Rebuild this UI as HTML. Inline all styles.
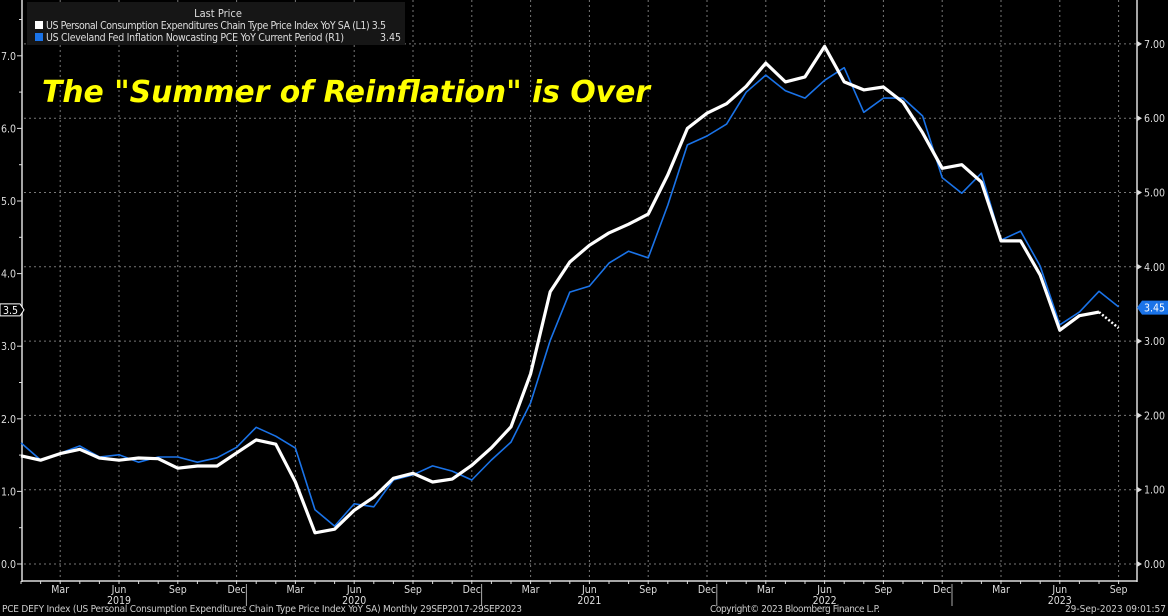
<!DOCTYPE html>
<html><head><meta charset="utf-8"><style>
html,body{margin:0;padding:0;background:#000;}
svg{display:block;}
text{font-family:"DejaVu Sans Condensed","DejaVu Sans","Liberation Sans",sans-serif;}
</style></head><body>
<svg id="chart" width="1168" height="616" viewBox="0 0 1168 616" xmlns="http://www.w3.org/2000/svg">
<g id="grid"></g>
<g id="axes"></g>
<g id="series"></g>
<g>
<rect x="27" y="2" width="378" height="43" fill="#161616"/>
<text x="218" y="17" fill="#ddd" font-size="11" text-anchor="middle">Last Price</text>
<rect x="35" y="21" width="8" height="8" fill="#fff"/>
<text x="46" y="29" fill="#ddd" font-size="10.5" textLength="340">US Personal Consumption Expenditures Chain Type Price Index YoY SA  (L1) 3.5</text>
<rect x="35" y="33" width="8" height="8" fill="#1a73e8"/>
<text x="46" y="41" fill="#ddd" font-size="10.5" textLength="298">US Cleveland Fed Inflation Nowcasting PCE YoY Current Period  (R1)</text>
<text x="401" y="41" fill="#ddd" font-size="10.5" text-anchor="end">3.45</text>
</g>
<text x="42" y="102" fill="#ffff00" font-size="30" font-weight="bold" font-style="italic" textLength="608" lengthAdjust="spacingAndGlyphs">The "Summer of Reinflation" is Over</text>
<text x="2" y="612" fill="#ccc" font-size="10" textLength="520">PCE DEFY Index (US Personal Consumption Expenditures Chain Type Price Index YoY SA)  Monthly 29SEP2017-29SEP2023</text>
<text x="710" y="612" fill="#ccc" font-size="10" textLength="170">Copyright© 2023 Bloomberg Finance L.P.</text>
<text x="1166" y="612" fill="#ccc" font-size="10" text-anchor="end">29-Sep-2023 09:01:57</text>
</svg>
<script>
const pceValues=[1.49,1.43,1.52,1.58,1.46,1.43,1.46,1.45,1.32,1.35,1.35,1.53,1.71,1.65,1.13,0.43,0.48,0.74,0.92,1.18,1.25,1.13,1.17,1.36,1.60,1.89,2.62,3.75,4.16,4.39,4.56,4.68,4.82,5.36,6.00,6.21,6.34,6.58,6.90,6.64,6.71,7.13,6.64,6.53,6.57,6.36,5.94,5.45,5.50,5.26,4.45,4.45,3.98,3.22,3.42,3.47];
const pceEstimate=[3.47,3.25];
const nowcastValues=[1.63,1.40,1.49,1.59,1.44,1.47,1.37,1.44,1.44,1.37,1.43,1.57,1.84,1.72,1.56,0.73,0.51,0.81,0.77,1.13,1.20,1.32,1.25,1.13,1.40,1.64,2.17,3.01,3.66,3.74,4.05,4.21,4.12,4.83,5.64,5.76,5.92,6.35,6.58,6.37,6.27,6.51,6.68,6.08,6.27,6.27,6.03,5.20,4.99,5.26,4.36,4.48,4.01,3.22,3.39,3.67,3.46];
const leftTicks=[0,1,2,3,4,5,6,7];
const rightTicks=[0,1,2,3,4,5,6,7];
const monthLabels=["Mar","Jun","Sep","Dec"];
const years=[2019,2020,2021,2022,2023];

const NS="http://www.w3.org/2000/svg";
const xOf=i=>21+19.6*i;
const yL=v=>564-72.6*v;
const yR=v=>564-74.3*v;
function mk(tag,attrs,parent,txt){const e=document.createElementNS(NS,tag);for(const k in attrs)e.setAttribute(k,attrs[k]);if(txt!==undefined)e.textContent=txt;parent.appendChild(e);return e;}
const grid=document.getElementById('grid'),axes=document.getElementById('axes'),ser=document.getElementById('series');

rightTicks.forEach(v=>{
  const y=yR(v);
  const g=mk('line',{x1:24,x2:1137,y1:y,y2:y,stroke:'#777','stroke-dasharray':'2,3','stroke-width':1},grid);
  
  
  mk('path',{d:`M1137 ${y-3}L1142 ${y}L1137 ${y+3}Z`,fill:'#ddd'},axes);
  const t=mk('text',{x:1144,y:y+4,fill:'#ddd','font-size':10.5},axes,v.toFixed(2));
  
  
});
leftTicks.forEach(v=>{
  const y=yL(v);
  mk('line',{x1:17,x2:22,y1:y,y2:y,stroke:'#ddd'},axes);
  mk('line',{x1:19,x2:22,y1:yL(v+0.5),y2:yL(v+0.5),stroke:'#ddd'},axes);
  const t=mk('text',{x:16,y:y+4,fill:'#ddd','font-size':10.5,'text-anchor':'end'},axes,v.toFixed(1));
  
  
});
for(let i=0;i<57;i++){
  const x=xOf(i);
  const m=i%12;
  mk('line',{x1:x,x2:x,y1:581,y2:584,stroke:'#ddd'},axes);
  if(m%3===2){
    const l=mk('line',{x1:x,x2:x,y1:0,y2:581,stroke:'#777','stroke-dasharray':'2,3'},grid);
    
    
    const t=mk('text',{x:x,y:593,fill:'#ddd','font-size':10.5,'text-anchor':'middle'},axes,monthLabels[(m-2)/3]);
    
    
  }
}
years.forEach((yr,k)=>{
  const t=mk('text',{x:xOf(5+12*k),y:604,fill:'#ddd','font-size':10.5,'text-anchor':'middle'},axes,String(yr));
  
  
  if(k>0) mk('line',{x1:xOf(12*k-0.5),x2:xOf(12*k-0.5),y1:584,y2:606,stroke:'#aaa'},axes);
});
mk('line',{x1:22,x2:22,y1:0,y2:582,stroke:'#ddd','stroke-width':1.5},axes);
mk('line',{x1:1137,x2:1137,y1:0,y2:582,stroke:'#ddd','stroke-width':1.5},axes);
mk('line',{x1:22,x2:1137,y1:581,y2:581,stroke:'#ddd','stroke-width':1.5},axes);

const bp=nowcastValues.map((v,i)=>`${xOf(i).toFixed(1)},${yR(v).toFixed(1)}`).join(' ');
const b=mk('polyline',{points:bp,fill:'none',stroke:'#1a73e8','stroke-width':1.6,'stroke-linejoin':'round'},ser);


const wp=pceValues.map((v,i)=>`${xOf(i).toFixed(1)},${yL(v).toFixed(1)}`).join(' ');
const w=mk('polyline',{points:wp,fill:'none',stroke:'#fff','stroke-width':3.2,'stroke-linejoin':'round'},ser);


const n=pceValues.length-1;
const d=mk('line',{x1:xOf(n),y1:yL(pceEstimate[0]),x2:xOf(n+1),y2:yL(pceEstimate[1]),stroke:'#fff','stroke-width':2.5,'stroke-dasharray':'2,2'},ser);



const yl=yL(3.5);
const lb=mk('path',{d:`M0 ${yl-6}H20L24 ${yl}L20 ${yl+6}H0Z`,fill:'#000',stroke:'#fff','stroke-width':1},axes);


mk('text',{x:3,y:yl+4,fill:'#fff','font-size':10.5},axes,'3.5');
const yr=yR(3.45);
const rb=mk('path',{d:`M1137 ${yr}L1142 ${yr-7}H1168V${yr+7}H1142Z`,fill:'#1a73e8'},axes);


mk('text',{x:1144,y:yr+4,fill:'#fff','font-size':10.5},axes,'3.45');
</script>
</body></html>
